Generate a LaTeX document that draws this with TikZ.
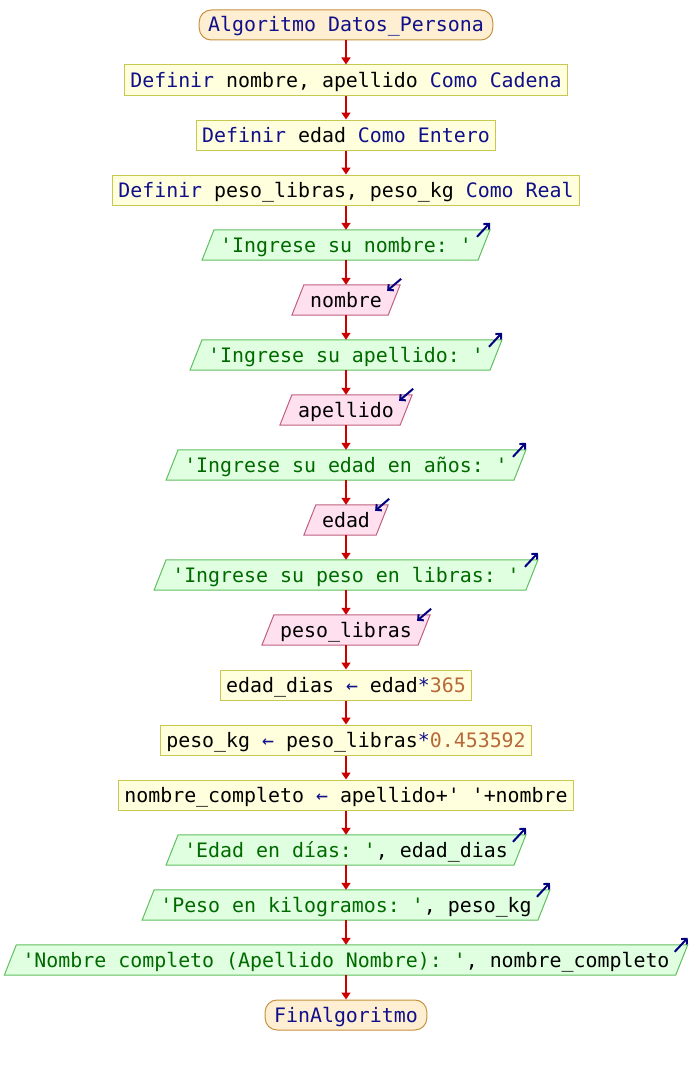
\documentclass[tikz,border=0pt]{standalone}
\usepackage{fontspec}
\setmonofont{DejaVu Sans Mono}
\usetikzlibrary{arrows.meta,calc,backgrounds}
\definecolor{ckwc}{HTML}{10108A}
\definecolor{cstrc}{HTML}{006A00}
\definecolor{cnumc}{HTML}{B8683A}
\definecolor{termfill}{HTML}{FFEFD2}
\definecolor{termdraw}{HTML}{C8903C}
\definecolor{procfill}{HTML}{FFFFDD}
\definecolor{procdraw}{HTML}{C8C850}
\definecolor{outfill}{HTML}{E0FFE0}
\definecolor{outdraw}{HTML}{60C060}
\definecolor{infill}{HTML}{FFE0EE}
\definecolor{indraw}{HTML}{C06080}
\definecolor{flowc}{HTML}{CC0000}
\definecolor{iconc}{HTML}{000080}
\newcommand\ckw[1]{\textcolor{ckwc}{#1}}
\newcommand\cstr[1]{\textcolor{cstrc}{#1}}
\newcommand\cnum[1]{\textcolor{cnumc}{#1}}
\tikzset{
  base/.style={font=\ttfamily\fontsize{19.9}{20}\selectfont, text height=18pt, text depth=4pt,
    inner ysep=4pt, minimum height=30pt, text=black},
  term/.style={base, draw=termdraw, fill=termfill, line width=1pt, rounded corners=12pt, inner xsep=9pt},
  proc/.style={base, draw=procdraw, fill=procfill, line width=1pt, inner xsep=6pt},
  iobox/.style={base, inner xsep=12pt},
  outshape/.style={draw=outdraw, fill=outfill, line width=1pt},
  inshape/.style={draw=indraw, fill=infill, line width=1pt},
  flow/.style={draw=flowc, line width=1.6pt, -{Triangle[width=9pt,length=7pt]}},
  icon/.style={draw=iconc, line width=2pt, -{Straight Barb[length=4pt,width=8pt]}}
}
\begin{document}
\begin{tikzpicture}[x=1pt,y=-1pt]
\begin{scope}[on background layer]
\fill[white] (0,0) rectangle (692,1065);
\end{scope}
\useasboundingbox (0,0) rectangle (692,1065);
\node[term] (n0) at (346,25) {\ckw{Algoritmo Datos\_Persona}};
\node[proc] (n1) at (346,80) {\ckw{Definir} nombre, apellido \ckw{Como Cadena}};
\node[proc] (n2) at (346,135) {\ckw{Definir} edad \ckw{Como Entero}};
\node[proc] (n3) at (346,190) {\ckw{Definir} peso\_libras, peso\_kg \ckw{Como Real}};
\node[iobox] (n4) at (346,245) {\cstr{'Ingrese su nombre: '}};
\node[iobox] (n5) at (346,300) {nombre};
\node[iobox] (n6) at (346,355) {\cstr{'Ingrese su apellido: '}};
\node[iobox] (n7) at (346,410) {apellido};
\node[iobox] (n8) at (346,465) {\cstr{'Ingrese su edad en años: '}};
\node[iobox] (n9) at (346,520) {edad};
\node[iobox] (n10) at (346,575) {\cstr{'Ingrese su peso en libras: '}};
\node[iobox] (n11) at (346,630) {peso\_libras};
\node[proc] (n12) at (346,685) {edad\_dias \ckw{←} edad\ckw{*}\cnum{365}};
\node[proc] (n13) at (346,740) {peso\_kg \ckw{←} peso\_libras\ckw{*}\cnum{0.453592}};
\node[proc] (n14) at (346,795) {nombre\_completo \ckw{←} apellido+' '+nombre};
\node[iobox] (n15) at (346,850) {\cstr{'Edad en días: '}, edad\_dias};
\node[iobox] (n16) at (346,905) {\cstr{'Peso en kilogramos: '}, peso\_kg};
\node[iobox] (n17) at (346,960) {\cstr{'Nombre completo (Apellido Nombre): '}, nombre\_completo};
\node[term] (n18) at (346,1015) {\ckw{FinAlgoritmo}};
\begin{scope}[on background layer]
\foreach \n in {n4,n6,n8,n10,n15,n16,n17}{
  \draw[outshape] ($(\n.south west)+(-6,0)$) -- ($(\n.south east)+(-6,0)$) -- ($(\n.north east)+(6,0)$) -- ($(\n.north west)+(6,0)$) -- cycle;
}
\foreach \n in {n5,n7,n9,n11}{
  \draw[inshape] ($(\n.south west)+(-6,0)$) -- ($(\n.south east)+(-6,0)$) -- ($(\n.north east)+(6,0)$) -- ($(\n.north west)+(6,0)$) -- cycle;
}
\end{scope}
\foreach \n in {n4,n6,n8,n10,n15,n16,n17}{
  \draw[icon] ($(\n.north east)+(-7,7)$) -- ($(\n.north east)+(6,-7)$);
}
\foreach \n in {n5,n7,n9,n11}{
  \draw[icon] ($(\n.north east)+(7,-6)$) -- ($(\n.north east)+(-7,6)$);
}
\foreach \a/\b in {n0/n1,n1/n2,n2/n3,n3/n4,n4/n5,n5/n6,n6/n7,n7/n8,n8/n9,n9/n10,n10/n11,n11/n12,n12/n13,n13/n14,n14/n15,n15/n16,n16/n17,n17/n18}{
  \draw[flow] (\a.south) -- (\b.north);
}
\end{tikzpicture}
\end{document}
